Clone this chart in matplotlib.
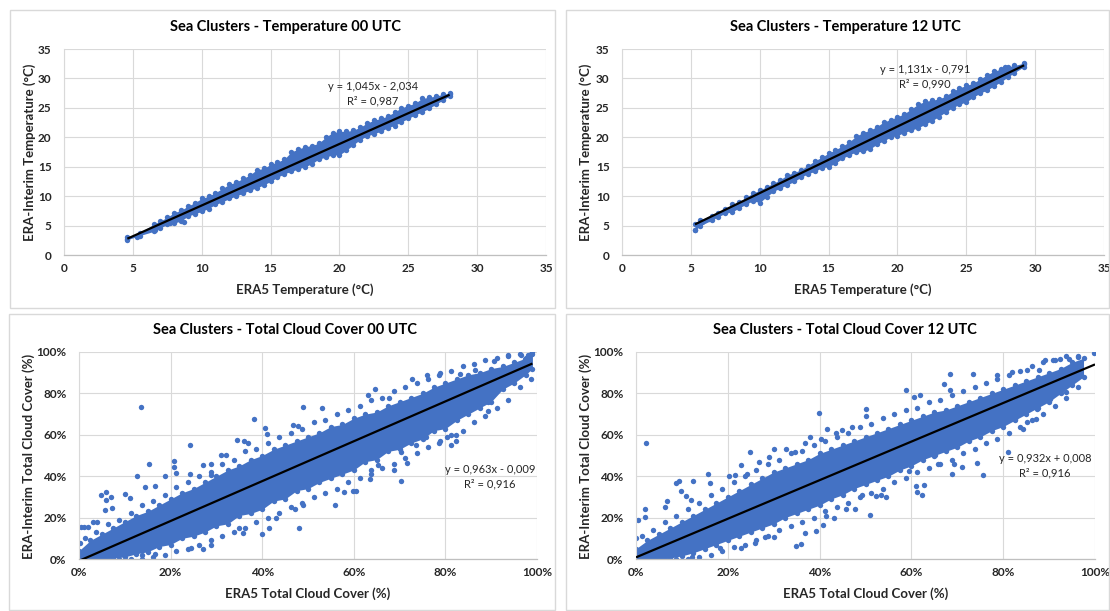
import matplotlib
matplotlib.use('Agg')
import matplotlib.pyplot as plt
from matplotlib.patches import Rectangle

plt.rcParams['font.family'] = ['Lato', 'DejaVu Sans']

# ---------------- data ----------------
titles = ['Sea Clusters - Temperature 00 UTC', 'Sea Clusters - Temperature 12 UTC',
          'Sea Clusters - Total Cloud Cover 00 UTC', 'Sea Clusters - Total Cloud Cover 12 UTC']
t_xlabel = 'ERA5 Temperature (°C)'
t_ylabel = 'ERA-Interim Temperature (°C)'
c_xlabel = 'ERA5 Total Cloud Cover (%)'
c_ylabel = 'ERA-Interim Total Cloud Cover (%)'

t_ticks = [0, 5, 10, 15, 20, 25, 30, 35]
t_ticklabels = ['0', '5', '10', '15', '20', '25', '30', '35']
c_ticks = [0, 20, 40, 60, 80, 100]
c_ticklabels = ['0%', '20%', '40%', '60%', '80%', '100%']

# Temperature 00 UTC: dense band of points (lower / upper edge) + isolated points
t00_x = [4.6, 5.5, 6.5, 7.0, 7.5, 8.0, 8.5, 9.0, 9.5, 10.0, 10.5, 11.0, 11.5, 12.0, 12.5, 13.0,
         13.5, 14.0, 14.5, 15.0, 15.5, 16.0, 16.5, 17.0, 17.5, 18.0, 18.5, 19.0, 19.5, 20.0,
         20.5, 21.0, 21.5, 22.0, 22.5, 23.0, 23.5, 24.0, 24.5, 25.0, 25.5, 26.0, 26.5, 27.0,
         27.5, 28.0]
t00_lo = [2.6, 3.3, 4.0, 4.6, 5.2, 5.4, 5.8, 6.6, 7.0, 7.4, 7.9, 8.6, 9.0, 9.6, 10.0, 10.5,
          11.0, 11.4, 11.9, 12.5, 13.2, 13.8, 14.2, 14.6, 15.0, 15.5, 16.3, 16.6, 17.0, 17.0,
          17.8, 18.7, 19.6, 20.2, 20.6, 21.0, 21.6, 22.0, 22.6, 23.2, 23.8, 24.3, 24.9, 25.6,
          26.3, 27.0]
t00_hi = [3.0, 3.8, 5.2, 5.8, 6.4, 7.2, 7.6, 8.3, 8.9, 9.6, 10.0, 10.6, 11.3, 12.0, 12.4, 13.0,
          13.6, 14.5, 14.7, 15.4, 15.8, 16.3, 17.5, 18.0, 18.4, 18.6, 19.0, 20.0, 20.8, 21.0,
          21.0, 21.2, 21.7, 22.4, 22.9, 23.2, 23.6, 24.3, 25.0, 25.4, 25.8, 26.6, 26.8, 27.0,
          27.3, 27.5]
t00_px = [4.6, 5.3, 6.6, 8.7, 8.5, 7.7, 28.0]
t00_py = [2.8, 3.0, 4.3, 5.6, 5.9, 5.4, 27.4]

# Temperature 12 UTC
t12_x = [5.3, 5.7, 6.5, 7.0, 7.5, 8.0, 8.5, 9.0, 9.5, 10.0, 10.5, 11.0, 11.5, 12.0, 12.5, 13.0,
         13.5, 14.0, 14.5, 15.0, 15.5, 16.0, 16.5, 17.0, 17.5, 18.0, 18.5, 19.0, 19.5, 20.0,
         20.5, 21.0, 21.5, 22.0, 22.5, 23.0, 23.5, 24.0, 24.5, 25.0, 25.5, 26.0, 26.5, 27.0,
         27.5, 28.0, 28.5, 29.2]
t12_lo = [4.2, 5.0, 5.9, 6.5, 7.1, 7.3, 8.0, 8.6, 9.2, 8.9, 9.9, 10.8, 11.4, 11.9, 12.5, 13.2,
          13.8, 14.2, 14.8, 15.0, 15.6, 16.4, 17.0, 17.5, 17.6, 18.0, 18.8, 19.4, 20.0, 20.3,
          20.8, 21.2, 21.6, 22.2, 22.8, 23.5, 24.3, 25.0, 25.6, 26.0, 26.8, 27.5, 28.0, 28.7,
          29.4, 30.2, 31.0, 32.0]
t12_hi = [5.3, 5.9, 6.6, 7.2, 7.8, 8.6, 9.0, 9.8, 10.5, 11.0, 11.6, 12.2, 12.8, 13.6, 14.0, 14.5,
          15.2, 16.0, 16.6, 17.3, 17.9, 18.5, 19.2, 20.2, 20.8, 21.2, 21.8, 22.6, 23.0, 23.5,
          24.0, 24.8, 25.6, 26.1, 26.3, 26.5, 27.0, 27.8, 28.4, 28.8, 29.2, 29.9, 30.6, 31.2,
          31.6, 32.0, 32.2, 32.6]
t12_px = [5.3, 5.5, 5.8, 6.3, 29.2, 27.8]
t12_py = [4.3, 5.2, 5.6, 6.1, 32.5, 32.0]

# Total cloud cover 00 UTC (values in %): dense core edges, fringe points, isolated points
c00_x = [0, 2.5, 5, 7.5, 10, 12.5, 15, 17.5, 20, 22.5, 25, 27.5, 30, 32.5, 35, 37.5, 40, 42.5,
         45, 47.5, 50, 52.5, 55, 57.5, 60, 62.5, 65, 67.5, 70, 72.5, 75, 77.5, 80, 82.5, 85,
         87.5, 90, 92.5, 95, 97.5, 99]
c00_lo = [0, 0, 0, 0.5, 1, 2.5, 3.5, 6, 7, 10, 11, 13, 16, 17, 21, 22, 24, 28, 29, 33, 34, 37,
          39, 41, 43, 47, 48, 52, 53, 56, 58, 62, 63, 67, 70, 73, 76, 82, 85, 89, 92]
c00_hi = [4, 9, 12, 15, 18, 21, 23, 26, 29, 32, 34, 37, 40, 43, 45, 48, 50, 53, 55, 57, 59, 61,
          64, 65, 68, 70, 71, 74, 76, 78, 80, 83, 85, 87, 89, 90, 92, 93, 95, 97, 99]
c00_fx = [1.25, 3.75, 6.25, 8.75, 11.25, 13.75, 16.25, 18.75, 21.25, 23.75, 26.25, 28.75,
          31.25, 33.75, 36.25, 38.75, 41.25, 43.75, 46.25, 48.75, 51.25, 53.75, 56.25, 58.75,
          61.25, 63.75, 66.25, 68.75, 71.25, 73.75, 76.25, 78.75, 81.25, 83.75, 86.25, 88.75,
          91.25, 93.75, 96.25, 98.75]
c00_fhi = [10, 13, 17, 19, 22, 26, 28, 31, 35, 37, 40, 42, 46, 48, 52, 53, 56, 59, 61, 63, 66,
           67, 70, 72, 74, 77, 78, 81, 83, 85, 87, 90, 91, 93, 94, 96, 97, 98, 99, 99]
c00_flo = [0, 0, 0, 0, 0, 0, 1, 2, 4, 5, 7, 9, 11, 13, 15, 18, 20, 22, 25, 27, 30, 32, 34, 37,
           39, 41, 44, 46, 49, 51, 54, 57, 60, 62, 66, 69, 73, 77, 83, 87]
c00_px = [13.5, 24.2, 15.3, 20.8, 20.8, 12.7, 18.8, 21.2, 4.8, 5.8, 6.0, 7.0, 10.0, 11.1, 7.1,
          5.7, 0.4, 1.2, 2.0, 3.1, 3.9, 0.2, 38.3, 40.7, 41.0, 34.4, 36.1, 36.8, 31.1, 32.2,
          27.1, 28.9, 28.9, 24.2, 14.4, 16.6, 48.0, 43.1, 41.5, 39.9, 35.7, 34.9, 28.9, 27.0,
          24.4, 16.7, 13.7, 47.1, 48.9, 48.8, 46.8, 47.8, 56.0, 70.3, 71.6, 63.6, 60.5, 57.8,
          59.9, 53.1, 64.7, 72.6, 76.0, 78.6, 83.2, 86.5, 90.6, 93.7, 89.4, 89.4, 82.3, 82.4,
          81.3, 80.4, 78.6, 75.7, 73.6, 70.3, 69.2, 68.7, 65.3, 63.8, 67.7, 63.0, 91.6, 92.0,
          89.7, 91.2, 95.9, 97.3, 88.1, 98.8, 98.0, 96.5]
c00_py = [73.5, 55.0, 46.1, 47.3, 44.5, 40.2, 40.2, 41.6, 30.9, 32.2, 28.3, 30.1, 31.2, 29.6,
          24.4, 23.6, 15.6, 15.6, 15.3, 18.0, 18.0, 7.9, 67.5, 63.3, 60.6, 57.7, 56.9, 55.8,
          50.2, 50.2, 45.3, 46.1, 40.5, 41.3, 34.9, 35.4, 14.8, 19.6, 15.1, 11.9, 12.4, 14.8,
          6.8, 4.7, 5.1, 2.3, 1.9, 24.0, 26.0, 73.2, 64.6, 64.3, 26.0, 37.6, 46.5, 38.6, 32.8,
          32.2, 32.8, 73.0, 82.3, 86.8, 88.7, 88.7, 89.5, 91.2, 95.7, 98.4, 71.4, 75.9, 59.8,
          57.0, 55.0, 59.0, 55.8, 59.0, 55.0, 51.8, 57.4, 42.9, 45.3, 42.9, 77.8, 79.1, 82.3,
          84.7, 84.7, 87.9, 93.6, 96.8, 80.7, 99.8, 98.5, 98.6]

# Total cloud cover 12 UTC (values in %)
c12_x = [0, 2.5, 5, 7.5, 10, 12.5, 15, 17.5, 20, 22.5, 25, 27.5, 30, 32.5, 35, 37.5, 40, 42.5,
         45, 47.5, 50, 52.5, 55, 57.5, 60, 62.5, 65, 67.5, 70, 72.5, 75, 77.5, 80, 82.5, 85,
         87.5, 90, 92.5, 95, 97.5]
c12_lo = [0, 0, 0, 0.5, 1.5, 3, 5, 7, 9, 11, 13, 15, 17, 20, 22, 24, 26, 29, 31, 34, 36, 38, 40,
          43, 45, 48, 50, 52, 54, 57, 59, 62, 64, 67, 70, 73, 76, 80, 84, 88]
c12_hi = [5, 9, 12, 15, 18, 21, 24, 27, 30, 33, 36, 39, 42, 44, 46, 48, 51, 53, 55, 57, 59, 61,
          63, 65, 67, 69, 71, 72, 74, 76, 78, 80, 82, 84, 86, 88, 90, 92, 95, 97]
c12_fx = [1.25, 3.75, 6.25, 8.75, 11.25, 13.75, 16.25, 18.75, 21.25, 23.75, 26.25, 28.75,
          31.25, 33.75, 36.25, 38.75, 41.25, 43.75, 46.25, 48.75, 51.25, 53.75, 56.25, 58.75,
          61.25, 63.75, 66.25, 68.75, 71.25, 73.75, 76.25, 78.75, 81.25, 83.75, 86.25, 88.75,
          91.25, 93.75, 96.25]
c12_fhi = [11, 14, 18, 21, 24, 27, 31, 34, 37, 40, 43, 46, 48, 51, 52, 55, 57, 59, 61, 64, 65,
           68, 70, 72, 73, 76, 77, 79, 81, 83, 85, 87, 89, 91, 93, 95, 96, 98, 98]
c12_flo = [0, 0, 0, 0, 0, 1, 2, 4, 6, 7, 9, 11, 14, 16, 18, 20, 23, 25, 27, 30, 32, 34, 37, 39,
           42, 44, 46, 48, 51, 53, 56, 58, 61, 64, 67, 70, 74, 78, 83]
c12_px = [2.2, 0.0, 0.4, 1.9, 2.0, 6.8, 8.7, 9.3, 12.4, 15.7, 16.2, 9.9, 10.8, 11.9, 6.4, 20.2,
          21.5, 22.8, 24.2, 24.9, 26.8, 28.9, 30.0, 32.6, 34.6, 36.9, 37.8, 40.2, 39.9, 41.7,
          43.6, 44.8, 47.0, 50.0, 50.0, 34.8, 35.9, 30.0, 28.2, 26.0, 22.8, 18.4, 12.2, 39.3,
          40.7, 36.8, 45.7, 47.7, 43.1, 41.3, 49.3, 51.0, 58.8, 60.5, 61.8, 67.0, 68.4, 68.4,
          73.5, 78.6, 81.9, 85.1, 87.9, 89.0, 90.8, 92.3, 94.4, 96.2, 81.1, 75.5, 74.4, 68.8,
          69.2, 71.0, 65.9, 65.2, 63.4, 60.9, 61.2, 62.3, 62.7, 59.4, 54.4, 53.3, 52.2, 84.3,
          85.1, 87.2, 90.1, 93.0, 93.7, 87.4, 82.5, 80.7, 79.9, 99.8]
c12_py = [55.8, 10.3, 18.8, 24.1, 20.4, 28.1, 36.5, 37.6, 37.6, 41.3, 36.5, 32.8, 30.5, 28.5,
          25.2, 40.2, 40.8, 45.3, 41.3, 51.8, 46.9, 49.4, 52.9, 52.9, 51.8, 55.8, 59.0, 58.2,
          70.7, 62.7, 61.1, 62.2, 63.8, 72.7, 69.1, 6.3, 7.1, 10.8, 10.8, 7.6, 5.5, 5.1, 1.1,
          13.5, 16.4, 12.7, 24.1, 24.1, 19.9, 20.9, 30.9, 21.2, 81.8, 78.3, 79.1, 84.7, 89.5,
          81.5, 89.5, 88.7, 90.4, 91.2, 91.2, 96.0, 96.0, 96.5, 96.8, 97.6, 51.8, 40.8, 46.5,
          41.3, 45.7, 44.5, 46.1, 50.2, 56.9, 35.4, 32.5, 30.9, 35.7, 42.4, 30.1, 30.9, 30.5,
          62.7, 66.2, 67.8, 77.5, 83.9, 80.7, 72.7, 67.8, 67.0, 69.5, 99.5]

# Linear trendlines (slope, intercept, x-range) and their labels
t00_fit = (1.045, -2.034, 4.6, 28.0)
t12_fit = (1.131, -0.791, 5.3, 29.2)
c00_fit = (0.963, -0.009, 0.5, 99.0)
c12_fit = (0.932, 0.008, 0.0, 100.0)
eq_labels = ['y = 1,045x - 2,034\nR² = 0,987', 'y = 1,131x - 0,791\nR² = 0,990',
             'y = 0,963x - 0,009\nR² = 0,916', 'y = 0,932x + 0,008\nR² = 0,916']

# ---------------- styling ----------------
BLUE = '#4472C4'
GRID = '#D9D9D9'
TXT = '#262626'
W, H = 1110, 611
MS = 15

fig = plt.figure(figsize=(W / 100, H / 100), dpi=100)


def fx(px):
    return px / W


def fy(py):
    return 1 - py / H


# panel frames
for (x0, y0, x1, y1) in [(10, 10, 555, 308), (566, 10, 1109, 308),
                         (9, 314, 555, 610), (566, 314, 1109, 610)]:
    fig.add_artist(Rectangle((fx(x0), fy(y1)), fx(x1 - x0), (y1 - y0) / H,
                             transform=fig.transFigure, fill=False,
                             edgecolor='#D9D9D9', lw=1.0))

axes_px = [(64, 49, 546, 255), (622, 49, 1104, 255), (79, 352, 537, 559), (636, 352, 1095, 559)]
axs = []
for (l, t, r, b) in axes_px:
    axs.append(fig.add_axes([fx(l), fy(b), (r - l) / W, (b - t) / H]))


def style(ax, ticks, labels, lim, ypad, xpad):
    ax.set_xlim(*lim)
    ax.set_ylim(*lim)
    ax.set_xticks(ticks, labels, fontweight='bold', fontsize=8.5, color=TXT)
    ax.set_yticks(ticks, labels, fontweight='bold', fontsize=8.5, color=TXT)
    ax.tick_params(axis='both', length=0)
    ax.tick_params(axis='y', pad=ypad)
    ax.tick_params(axis='x', pad=xpad)
    ax.grid(True, color=GRID, lw=0.8)
    ax.set_axisbelow(True)
    for s in ['top', 'right']:
        ax.spines[s].set_visible(False)
    ax.spines['left'].set_color(GRID)
    ax.spines['left'].set_linewidth(0.8)
    ax.spines['bottom'].set_color('#BFBFBF')
    ax.spines['bottom'].set_linewidth(0.9)


def draw(ax, x, lo, hi, px, py, fit, fringe=None):
    ax.fill_between(x, lo, hi, color=BLUE, lw=0, zorder=2)
    ax.scatter(x, lo, s=MS, color=BLUE, lw=0, zorder=2)
    ax.scatter(x, hi, s=MS, color=BLUE, lw=0, zorder=2)
    if fringe is not None:
        fxs, flo, fhi = fringe
        ax.scatter(fxs, flo, s=MS, color=BLUE, lw=0, zorder=2)
        ax.scatter(fxs, fhi, s=MS, color=BLUE, lw=0, zorder=2)
    ax.scatter(px, py, s=MS, color=BLUE, lw=0, zorder=2)
    slope, icpt, x0, x1 = fit
    ax.plot([x0, x1], [slope * x0 + icpt, slope * x1 + icpt], color='black', lw=1.6,
            zorder=3, solid_capstyle='butt')


# temperature panels
style(axs[0], t_ticks, t_ticklabels, (0, 35), 9, 6)
draw(axs[0], t00_x, t00_lo, t00_hi, t00_px, t00_py, t00_fit)
style(axs[1], t_ticks, t_ticklabels, (0, 35), 9, 6)
draw(axs[1], t12_x, t12_lo, t12_hi, t12_px, t12_py, t12_fit)

# cloud panels (percent units; intercept scaled to percent)
style(axs[2], c_ticks, c_ticklabels, (0, 100), 9, 6)
s, i, a, b = c00_fit
draw(axs[2], c00_x, c00_lo, c00_hi, c00_px, c00_py, (s, i * 100, a, b),
     (c00_fx, c00_flo, c00_fhi))
style(axs[3], c_ticks, c_ticklabels, (0, 100), 9, 6)
s, i, a, b = c12_fit
draw(axs[3], c12_x, c12_lo, c12_hi, c12_px, c12_py, (s, i * 100, a, b),
     (c12_fx, c12_flo, c12_fhi))

# equation labels (pixel centres)
eq_pos = [(373, 93.5), (925, 77), (490, 477), (1045, 466)]
for lab, (ex, ey) in zip(eq_labels, eq_pos):
    fig.text(fx(ex), fy(ey), lab, ha='center', va='center', fontsize=8, color=TXT,
             linespacing=1.35)

# titles
for ttl, (tx, ty) in zip(titles, [(285, 27), (845, 27), (285, 330), (845, 330)]):
    fig.text(fx(tx), fy(ty), ttl, ha='center', va='center', fontsize=10.5,
             fontweight='bold', color='black')

# axis labels
xl = [(t_xlabel, 305, 290), (t_xlabel, 863, 290), (c_xlabel, 308, 594), (c_xlabel, 866, 594)]
for lab, lx, ly in xl:
    fig.text(fx(lx), fy(ly), lab, ha='center', va='center', fontsize=9.5,
             fontweight='bold', color=TXT)
yl = [(t_ylabel, 30, 152), (t_ylabel, 586, 152), (c_ylabel, 29, 456), (c_ylabel, 586, 456)]
for lab, lx, ly in yl:
    fig.text(fx(lx), fy(ly), lab, ha='center', va='center', rotation=90, fontsize=9.5,
             fontweight='bold', color=TXT)

fig.savefig('out.png', dpi=100)
